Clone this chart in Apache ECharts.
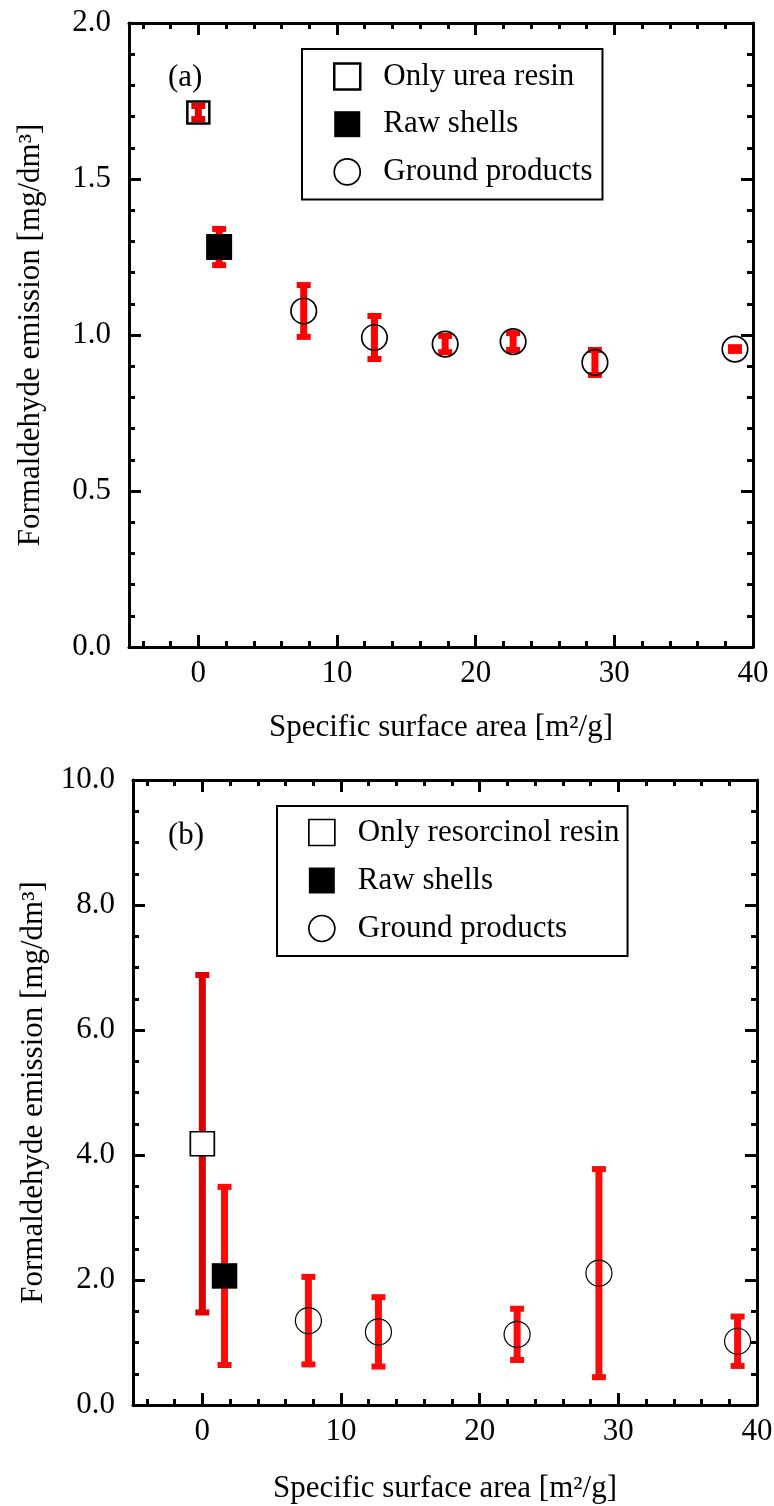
<!DOCTYPE html>
<html>
<head>
<meta charset="utf-8">
<script src="https://cdn.jsdelivr.net/npm/echarts@6/dist/echarts.min.js"></script>
<style>
  html, body { margin: 0; padding: 0; background: #fff; }
  #main { width: 774px; height: 1506px; }
</style>
</head>
<body>
<div id="main"></div>
<script>
// ---- (a) urea resin ----
const aResinX = [0];
const aResinY = [1.713];
const aResinErr = [0.021];
const aShellX = [1.5];
const aShellY = [1.282];
const aShellErr = [0.058];
const aGroundX = [7.6, 12.7, 17.8, 22.7, 28.6, 38.7];
const aGroundY = [1.077, 0.992, 0.971, 0.979, 0.912, 0.955];
const aGroundErr = [0.083, 0.069, 0.026, 0.027, 0.04, 0.006];

// ---- (b) resorcinol resin ----
const bResinX = [0];
const bResinY = [4.18];
const bResinErr = [2.7];
const bShellX = [1.6];
const bShellY = [2.065];
const bShellErr = [1.425];
const bGroundX = [7.65, 12.7, 22.7, 28.6, 38.6];
const bGroundY = [1.35, 1.17, 1.13, 2.11, 1.02];
const bGroundErr = [0.7, 0.555, 0.41, 1.665, 0.395];

// 刻度
const xMajor = [0, 10, 20, 30, 40];
const xMinor = [-4, -2, 2, 4, 6, 8, 12, 14, 16, 18, 22, 24, 26, 28, 32, 34, 36, 38];

const FONT = "'Liberation Serif', 'Times New Roman', serif";
const FS = 31;
const xName = "Specific surface area [m²/g]";
const yName = "Formaldehyde emission [mg/dm³]";

const myChart = echarts.init(document.getElementById("main"));

function pts(xs, ys, es) {
  return xs.map((x, i) => [x, ys[i], es[i]]);
}

// 误差棒
function errBar(name, gi, xs, ys, es, color) {
  return {
    name: name,
    type: "custom",
    xAxisIndex: gi * 4,
    yAxisIndex: gi * 2,
    z: 2,
    encode: { x: 0, y: 1 },
    data: pts(xs, ys, es),
    renderItem: function (params, api) {
      const x = api.value(0), y = api.value(1), e = api.value(2);
      const top = api.coord([x, y + e]);
      const bot = api.coord([x, y - e]);
      const capW = 14, capH = 6;
      return {
        type: "group",
        children: [
          { type: "line", shape: { x1: top[0], y1: top[1], x2: bot[0], y2: bot[1] }, style: { stroke: color, lineWidth: 7 } },
          { type: "rect", shape: { x: top[0] - capW / 2, y: top[1] - capH / 2, width: capW, height: capH }, style: { fill: color } },
          { type: "rect", shape: { x: bot[0] - capW / 2, y: bot[1] - capH / 2, width: capW, height: capH }, style: { fill: color } },
        ],
      };
    },
  };
}

function marker(name, gi, xs, ys, symbol, size, itemStyle) {
  return {
    name: name,
    type: "scatter",
    xAxisIndex: gi * 4,
    yAxisIndex: gi * 2,
    z: 5,
    symbol: symbol,
    symbolSize: size,
    itemStyle: Object.assign({ opacity: 1 }, itemStyle),
    emphasis: { disabled: true },
    data: xs.map((x, i) => [x, ys[i]]),
  };
}

const axisLine = { show: true, onZero: false, lineStyle: { color: "#000", width: 3 } };
const noLine = { show: false, onZero: false };
const tickStyle = { color: "#000", width: 3 };

function xAxes(gi, nameGap) {
  const base = { gridIndex: gi, type: "value", min: -5, max: 40, splitLine: { show: false } };
  return [
    Object.assign({}, base, {
      position: "bottom",
      axisLine: axisLine,
      axisTick: { inside: true, length: 12, lineStyle: tickStyle, customValues: xMajor },
      axisLabel: { customValues: xMajor, margin: 11, color: "#000", fontSize: FS, fontFamily: FONT },
      name: xName,
      nameLocation: "middle",
      nameGap: nameGap,
      nameTextStyle: { color: "#000", fontSize: FS, fontFamily: FONT },
    }),
    Object.assign({}, base, {
      position: "bottom",
      axisLine: noLine,
      axisTick: { inside: true, length: 6, lineStyle: tickStyle, customValues: xMinor },
      axisLabel: { show: false },
    }),
    Object.assign({}, base, {
      position: "top",
      axisLine: axisLine,
      axisTick: { inside: true, length: 12, lineStyle: tickStyle, customValues: xMajor },
      axisLabel: { show: false },
    }),
    Object.assign({}, base, {
      position: "top",
      axisLine: noLine,
      axisTick: { inside: true, length: 6, lineStyle: tickStyle, customValues: xMinor },
      axisLabel: { show: false },
    }),
  ];
}

function yAxes(gi, max, interval, split, nameGap) {
  const base = {
    gridIndex: gi, type: "value", min: 0, max: max, interval: interval,
    splitLine: { show: false },
    axisLine: axisLine,
    axisTick: { inside: true, length: 12, lineStyle: tickStyle },
    minorTick: { show: true, splitNumber: split, length: 6, lineStyle: tickStyle },
  };
  return [
    Object.assign({}, base, {
      position: "left",
      axisLabel: { margin: 18, color: "#000", fontSize: FS, fontFamily: FONT, formatter: (v) => v.toFixed(1) },
      name: yName,
      nameLocation: "middle",
      nameRotate: 90,
      nameGap: nameGap,
      nameTextStyle: { color: "#000", fontSize: FS, fontFamily: FONT },
    }),
    Object.assign({}, base, { position: "right", axisLabel: { show: false } }),
  ];
}

function legend(left, top, names, pad, gap) {
  return {
    orient: "vertical",
    left: left,
    top: top,
    padding: pad,
    borderColor: "#000",
    borderWidth: 2,
    itemWidth: 26,
    itemHeight: 26,
    itemGap: gap,
    selectedMode: false,
    textStyle: { color: "#000", fontSize: FS, fontFamily: FONT, lineHeight: 30, padding: [0, 0, 0, 18] },
    data: [
      { name: names[0], icon: "rect", itemStyle: { color: "#fff", borderColor: "#000", borderWidth: names[3], opacity: 1 } },
      { name: names[1], icon: "rect", itemStyle: { color: "#000", borderColor: "#000", borderWidth: 0, opacity: 1 } },
      { name: names[2], icon: "circle", itemStyle: { color: "#fff", borderColor: "#000", borderWidth: 1.7, opacity: 1 } },
    ],
  };
}

myChart.setOption({
  animation: false,
  backgroundColor: "#fff",
  title: [
    { text: "(a)", left: 168, top: 62, padding: 0, textStyle: { color: "#000", fontSize: FS, fontWeight: "normal", fontFamily: FONT } },
    { text: "(b)", left: 168, top: 820, padding: 0, textStyle: { color: "#000", fontSize: FS, fontWeight: "normal", fontFamily: FONT } },
  ],
  grid: [
    { left: 129, right: 21, top: 23, height: 624, outerBoundsMode: "none" },
    { left: 133, right: 17, top: 780, height: 625, outerBoundsMode: "none" },
  ],
  legend: [
    legend(302, 49, ["Only urea resin", "Raw shells", "Ground products", 2.5], [12, 10, 12, 31], 16.7),
    legend(277, 806, ["Only resorcinol resin", "Raw shells", "Ground products", 1.7], [11, 8, 12, 31], 17),
  ],
  xAxis: xAxes(0, 65).concat(xAxes(1, 68)),
  yAxis: yAxes(0, 2, 0.5, 5, 83).concat(yAxes(1, 10, 2, 4, 84)),
  series: [
    errBar("a-err-resin", 0, aResinX, aResinY, aResinErr, "#e00000"),
    errBar("a-err-shell", 0, aShellX, aShellY, aShellErr, "#ff0000"),
    errBar("a-err-ground", 0, aGroundX, aGroundY, aGroundErr, "#ff0000"),
    marker("Only urea resin", 0, aResinX, aResinY, "rect", 22, { color: "rgba(0,0,0,0)", borderColor: "#000", borderWidth: 2.5 }),
    marker("Raw shells", 0, aShellX, aShellY, "rect", 26, { color: "#000" }),
    marker("Ground products", 0, aGroundX, aGroundY, "circle", 25.5, { color: "rgba(0,0,0,0)", borderColor: "#000", borderWidth: 1.7 }),

    errBar("b-err-resin", 1, bResinX, bResinY, bResinErr, "#dd0000"),
    errBar("b-err-shell", 1, bShellX, bShellY, bShellErr, "#ff0a0a"),
    errBar("b-err-ground", 1, bGroundX, bGroundY, bGroundErr, "#ff0a0a"),
    marker("Only resorcinol resin", 1, bResinX, bResinY, "rect", 24, { color: "#fff", borderColor: "#000", borderWidth: 1.7 }),
    marker("Raw shells", 1, bShellX, bShellY, "rect", 25.5, { color: "#000" }),
    marker("Ground products", 1, bGroundX, bGroundY, "circle", 26, { color: "rgba(0,0,0,0)", borderColor: "#000", borderWidth: 1.2 }),
  ],
});
</script>
</body>
</html>
